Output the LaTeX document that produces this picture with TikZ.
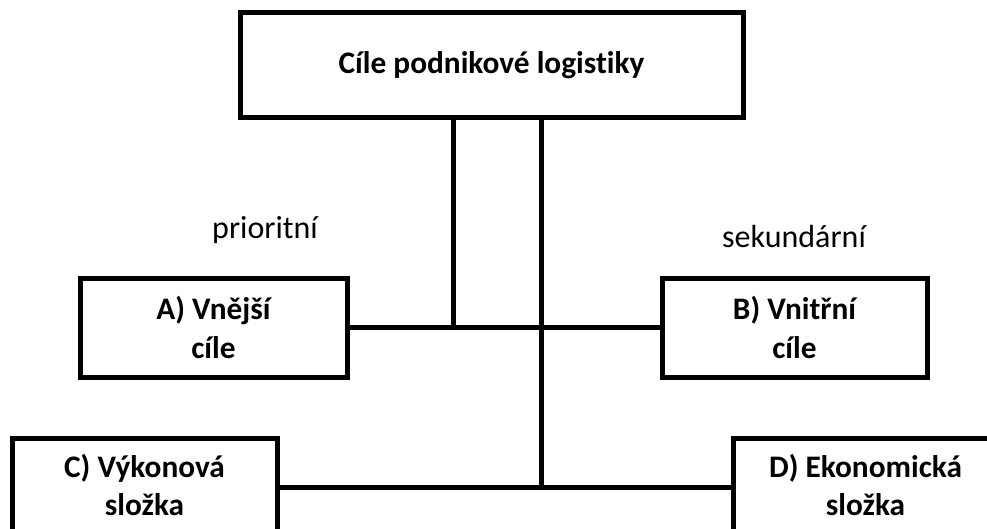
\documentclass[tikz,border=0pt]{standalone}
\usepackage{fontspec}
\setmainfont{Carlito}[Ligatures=NoCommon]
\usetikzlibrary{positioning}

\tikzset{
  goalbox/.style={draw=black,line width=3.75pt,fill=white,align=center,
    font=\bfseries\fontsize{23.5}{29}\selectfont,inner sep=0pt},
  link/.style={line width=3.75pt},
  tag/.style={font=\fontsize{24}{28}\selectfont}
}

\begin{document}
\begin{tikzpicture}[x=0.75pt,y=-0.75pt]
\useasboundingbox (0,0) rectangle (987,528);
\clip (0,0) rectangle (987,528);
% main goal
\node[goalbox,minimum width=377.25pt,minimum height=78pt] (cile) at (491.5,65) {C\'{\i}le podnikov\'e logistiky};

% first level
\node[goalbox,minimum width=200.25pt,minimum height=74.25pt] (vnejsi) at (213.5,327.5) {A) Vnější\\cíle};
\node[goalbox,minimum width=198.75pt,minimum height=74.25pt] (vnitrni) at (794.5,327.5) {B) Vnitřní\\cíle};
\node[tag] (prior) at (265,230) {prioritní};
\node[tag] (sekund) at (794,237) {sekundární};

% second level
\node[goalbox,minimum width=198.75pt,minimum height=73.5pt,text depth=3pt] (vykon) at (144.5,487) {C) Výkonová\\složka};
\node[goalbox,minimum width=198.75pt,minimum height=73.5pt,text depth=3pt] (ekon) at (865.5,487) {D) Ekonomická\\složka};

% connectors
\coordinate (jab) at (453,327);
\coordinate (jcd) at (541,487);
\draw[link] (vnejsi) -- (vnitrni);
\draw[link] (vykon) -- (ekon);
\draw[link] (cile.south -| jab) -- (jab);
\draw[link] (cile.south -| jcd) -- (jcd);
\end{tikzpicture}
\end{document}
